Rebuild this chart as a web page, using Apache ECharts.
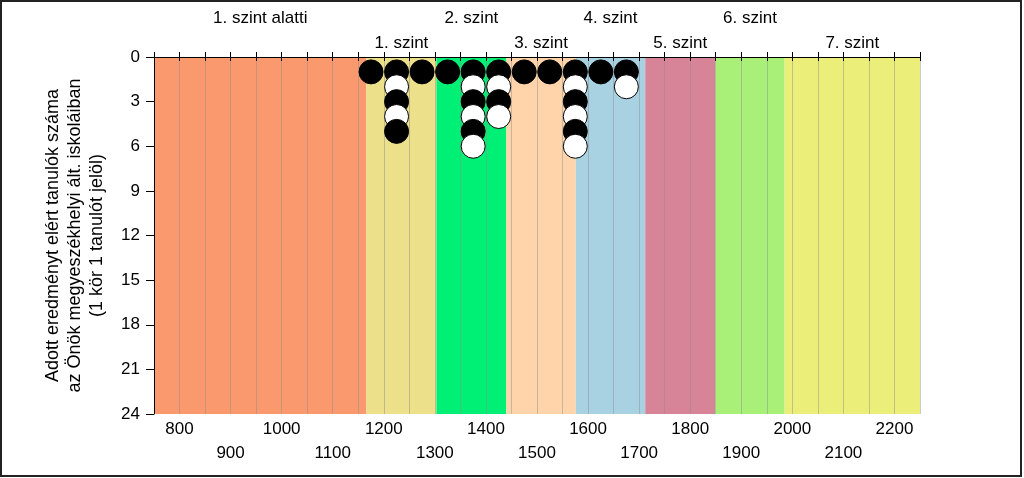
<!DOCTYPE html>
<html><head><meta charset="utf-8">
<script src="https://cdn.jsdelivr.net/npm/echarts@6/dist/echarts.min.js"></script>
<style>html,body{margin:0;padding:0;background:#fff}#c{width:1024px;height:478px}</style>
</head><body><div id="c"></div>
<script>
const bandEdges = [750, 1166, 1303, 1440, 1576, 1712, 1849, 1985, 2250];
const bandNames = ['1. szint alatti', '1. szint', '2. szint', '3. szint', '4. szint', '5. szint', '6. szint', '7. szint'];
const bandColors = ['#FA996D', '#ECE18A', '#00F076', '#FFD4AA', '#A8D2E2', '#D88498', '#A8F078', '#EBEE78'];
const binCenters = [1175, 1225, 1275, 1325, 1375, 1425, 1475, 1525, 1575, 1625, 1675];
const binCounts = [1, 5, 1, 1, 6, 4, 1, 1, 6, 1, 2];
const yTicks = [0, 3, 6, 9, 12, 15, 18, 21, 24];

const FONT = '"Liberation Sans", Arial, sans-serif';

const points = [];
binCenters.forEach((x, i) => {
  for (let k = 1; k <= binCounts[i]; k++) {
    points.push({ value: [x, k], itemStyle: { color: k % 2 === 1 ? '#000' : '#fff' } });
  }
});

const areas = bandNames.map((name, i) => [
  { xAxis: bandEdges[i], name: name,
    itemStyle: { color: bandColors[i], opacity: 1 },
    label: { distance: i % 2 === 0 ? 30 : 5 } },
  { xAxis: bandEdges[i + 1] }
]);

const chart = echarts.init(document.getElementById('c'), null, { renderer: 'canvas' });
chart.setOption({
  animation: false,
  textStyle: { fontFamily: FONT },
  grid: { left: 154, right: 104, top: 57, bottom: 64, containLabel: false },
  xAxis: [
    { type: 'value', position: 'bottom', min: bandEdges[0], max: bandEdges[bandEdges.length - 1], interval: 50,
      z: 3,
      axisLine: { show: true, lineStyle: { color: '#000', width: 1 } },
      axisTick: { show: true, length: 4, lineStyle: { color: '#000' } },
      splitLine: { show: true, lineStyle: { color: 'rgba(140,140,140,0.45)', width: 1 } },
      axisLabel: { color: '#000', fontSize: 17, fontFamily: FONT, margin: 3, lineHeight: 24,
        showMinLabel: true, showMaxLabel: true,
        formatter: v => (v % 200 === 0 ? String(v) : (v % 200 === 100 ? '\n' + v : '')) } },
    { type: 'value', position: 'top', min: bandEdges[0], max: bandEdges[bandEdges.length - 1], interval: 50,
      z: 3,
      axisLine: { show: true, lineStyle: { color: '#000', width: 1 } },
      axisTick: { show: true, length: 5, lineStyle: { color: '#000' } },
      splitLine: { show: false }, axisLabel: { show: false } }
  ],
  yAxis: {
    type: 'value', inverse: true, min: yTicks[0], max: yTicks[yTicks.length - 1], interval: 3, z: 3,
    name: 'Adott eredményt elért tanulók száma\naz Önök megyeszékhelyi ált. iskoláiban\n(1 kör 1 tanulót jelöl)',
    nameLocation: 'middle', nameRotate: 90, nameGap: 46,
    nameTextStyle: { color: '#000', fontSize: 18, fontFamily: FONT, lineHeight: 22, align: 'center' },
    axisLine: { show: true, lineStyle: { color: '#000', width: 1 } },
    axisTick: { show: true, length: 8, lineStyle: { color: '#000' } },
    splitLine: { show: false },
    axisLabel: { color: '#000', fontSize: 17, fontFamily: FONT, margin: 14 }
  },
  series: [
    { type: 'line', data: [], z: 1, clip: false, silent: true,
      markArea: { silent: true,
        label: { show: true, position: 'top', color: '#000', fontSize: 17, fontFamily: FONT },
        data: areas } },
    { type: 'scatter', z: 5, symbol: 'circle', symbolSize: 24, data: points,
      itemStyle: { borderColor: '#000', borderWidth: 1, opacity: 1 } }
  ],
  graphic: [
    { type: 'rect', silent: true, z: 100, shape: { x: 1, y: 1, width: 1020, height: 475 },
      style: { fill: 'none', stroke: '#222', lineWidth: 2 } }
  ]
});
</script></body></html>
